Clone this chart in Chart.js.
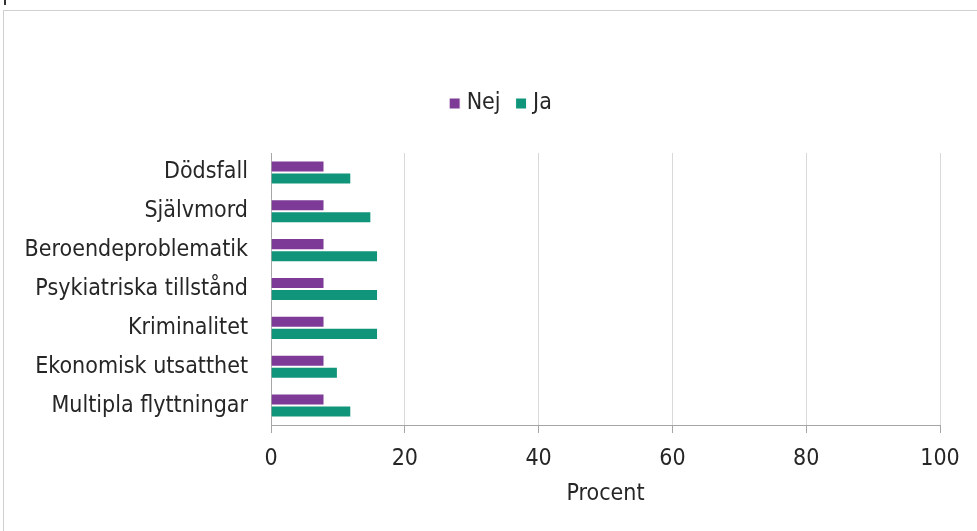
<!DOCTYPE html>
<html>
<head>
<meta charset="utf-8">
<script src="https://cdn.jsdelivr.net/npm/chart.js@4"></script>
<style>
  body { margin: 0; background: #fff; }
  #wrap { position: relative; width: 977px; height: 531px; }
  #frame { position: absolute; left: 3px; top: 10px; width: 980px; height: 530px; border: 1px solid #d0d0d0; }
  #mark { position: absolute; left: 4px; top: 0; width: 2px; height: 5px; background: #333; }
  canvas { position: absolute; left: 0; top: 0; }
</style>
</head>
<body>
<div id="wrap">
  <div id="frame"></div>
  <div id="mark"></div>
  <canvas id="chart" width="977" height="531"></canvas>
</div>
<script>
var categories = ['Dödsfall', 'Självmord', 'Beroendeproblematik', 'Psykiatriska tillstånd', 'Kriminalitet', 'Ekonomisk utsatthet', 'Multipla flyttningar'];
var nejValues = [8, 8, 8, 8, 8, 8, 8];
var jaValues = [12, 15, 16, 16, 16, 10, 12];
var xTicks = [0, 20, 40, 60, 80, 100];

var fontFamily = "'DejaVu Sans Condensed', 'DejaVu Sans', sans-serif";
var textColor = '#262626';

// push the plot area down below the legend, and centre the legend a bit further right
var legendSpacer = {
    id: 'legendSpacer',
    beforeInit: function (chart) {
        var fit = chart.legend.fit;
        chart.legend.fit = function () {
            fit.bind(chart.legend)();
            this.height += 28;
        };
    },
    afterLayout: function (chart) {
        chart.legend.left = 66;
    }
};

var ctx = document.getElementById('chart').getContext('2d');
var chart = new Chart(ctx, {
    type: 'bar',
    data: {
        labels: categories,
        datasets: [{
            label: 'Nej',
            data: nejValues,
            backgroundColor: '#7d3a96',
            borderColor: '#ffffff',
            borderWidth: 1
        }, {
            label: 'Ja',
            data: jaValues,
            backgroundColor: '#11957a',
            borderColor: '#ffffff',
            borderWidth: 1
        }]
    },
    options: {
        indexAxis: 'y',
        responsive: false,
        animation: false,
        devicePixelRatio: 1,
        barPercentage: 1,
        categoryPercentage: 0.62,
        layout: {
            padding: { top: 72, right: 37, bottom: 13, left: 0 }
        },
        plugins: {
            legend: {
                position: 'top',
                labels: {
                    usePointStyle: true,
                    pointStyle: 'rect',
                    boxWidth: 1,
                    boxHeight: 11,
                    padding: 20,
                    color: textColor,
                    font: { family: fontFamily, size: 23 }
                }
            },
            tooltip: { enabled: false }
        },
        scales: {
            x: {
                min: 0,
                max: 100,
                afterBuildTicks: function (scale) {
                    scale.ticks = xTicks.map(function (v) { return { value: v }; });
                },
                afterFit: function (scale) {
                    scale.height = 93;
                },
                grid: {
                    color: '#d9d9d9',
                    tickColor: '#a6a6a6',
                    tickLength: 8
                },
                border: { color: '#a6a6a6' },
                ticks: {
                    padding: 12,
                    color: textColor,
                    font: { family: fontFamily, size: 23 }
                },
                title: {
                    display: true,
                    text: 'Procent',
                    color: textColor,
                    padding: { top: 10, bottom: 10 },
                    font: { family: fontFamily, size: 23 }
                }
            },
            y: {
                afterFit: function (scale) {
                    scale.width = 271;
                },
                grid: { display: false, drawTicks: false },
                border: { color: '#a6a6a6' },
                ticks: {
                    padding: 23,
                    color: textColor,
                    font: { family: fontFamily, size: 23 }
                }
            }
        }
    },
    plugins: [legendSpacer]
});
</script>
</body>
</html>
